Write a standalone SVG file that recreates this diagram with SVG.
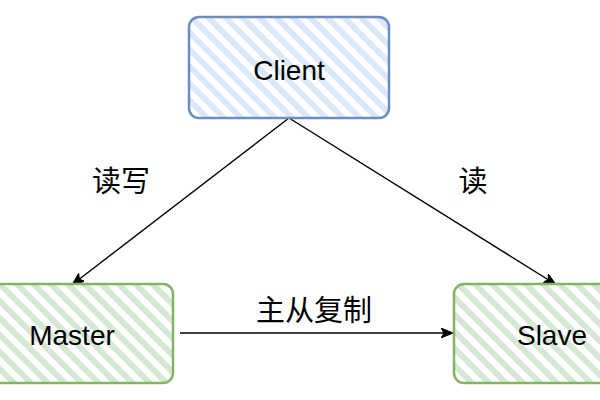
<svg xmlns="http://www.w3.org/2000/svg" width="600" height="400" viewBox="0 0 600 400">
  <style>
    .lbl { font-family: "Liberation Sans", Arial, sans-serif; font-size: 28px; fill: #000; text-anchor: middle; }
    .cjk { font-family: "Liberation Sans", "Noto Sans CJK SC", sans-serif; font-size: 29px; fill: #000; text-anchor: middle; }
    .edge { stroke: #000; stroke-width: 1.4; fill: none; }
    .blue { fill: url(#hatchBlue); stroke: #6c8ebf; stroke-width: 2.5; }
    .green { fill: url(#hatchGreen); stroke: #82b366; stroke-width: 2.5; }
  </style>
  <defs>
    <pattern id="hatchBlue" width="12" height="12" patternUnits="userSpaceOnUse" patternTransform="rotate(-45)">
      <rect width="12" height="12" fill="#ffffff"/>
      <rect x="0" y="0" width="6" height="12" fill="#dae8fc"/>
    </pattern>
    <pattern id="hatchGreen" width="12" height="12" patternUnits="userSpaceOnUse" patternTransform="rotate(-45)">
      <rect width="12" height="12" fill="#ffffff"/>
      <rect x="0" y="0" width="6" height="12" fill="#d5e8d4"/>
    </pattern>
    <marker id="arrow" viewBox="0 0 12 10" refX="11" refY="5" markerWidth="12" markerHeight="10" markerUnits="userSpaceOnUse" orient="auto">
      <path d="M0,0 L12,5 L0,10 L3,5 Z" fill="#000" stroke="#000" stroke-width="1"/>
    </marker>
  </defs>

  <g id="connectors">
    <path class="edge" d="M289,118 L73,284" marker-end="url(#arrow)"/>
    <path class="edge" d="M289,118 L555,284" marker-end="url(#arrow)"/>
    <path class="edge" d="M180,333 L452,333" marker-end="url(#arrow)"/>
    <text class="cjk" x="121" y="192">读写</text>
    <text class="cjk" x="473" y="192">读</text>
    <text class="cjk" x="314" y="321">主从复制</text>
  </g>

  <g id="client">
    <rect class="blue" x="189" y="17" width="200" height="101" rx="10" ry="10"/>
    <text class="lbl" x="289" y="80">Client</text>
  </g>

  <g id="master">
    <rect class="green" x="-20" y="284" width="193" height="99" rx="10" ry="10"/>
    <text class="lbl" x="72" y="345">Master</text>
  </g>

  <g id="slave">
    <rect class="green" x="454" y="284" width="170" height="99" rx="10" ry="10"/>
    <text class="lbl" x="552" y="345">Slave</text>
  </g>
</svg>
